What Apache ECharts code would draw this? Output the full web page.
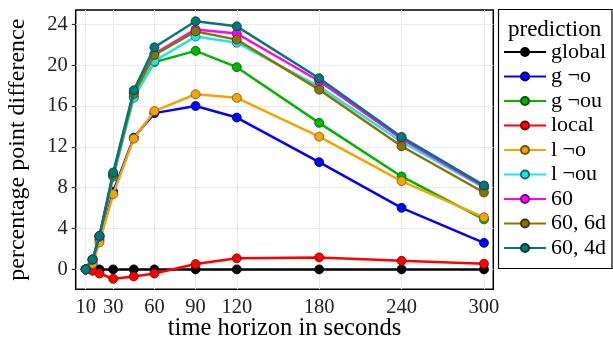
<!DOCTYPE html>
<html>
<head>
<meta charset="utf-8">
<script src="https://cdn.jsdelivr.net/npm/echarts@6/dist/echarts.min.js"></script>
<style>
  html, body { margin: 0; padding: 0; background: #fff; }
  #main { width: 613px; height: 341px; }
</style>
</head>
<body>
<div id="main"></div>
<script>
// 数据
var horizons = [10, 15, 20, 30, 45, 60, 90, 120, 180, 240, 300];
var xTicks = [10, 30, 60, 90, 120, 180, 240, 300];
var yTicks = [0, 4, 8, 12, 16, 20, 24];

var names = ['global', 'g ¬o', 'g ¬ou', 'local', 'l ¬o', 'l ¬ou', '60', '60, 6d', '60, 4d'];
var colors = ['#000000', '#0000ff', '#00b400', '#ff0000', '#f5a300', '#1ee6e6', '#ff00ff', '#8a7400', '#007878'];
var borders = ['#000000', '#00007a', '#005a00', '#7a0000', '#7a5200', '#0a6f6f', '#7a007a', '#453a00', '#003c3c'];

var globalVals = [0, 0, 0, 0, 0, 0, 0, 0, 0, 0, 0];
var gNotO = [0, 0.6, 2.9, 7.6, 12.9, 15.3, 16.0, 14.87, 10.5, 6.03, 2.6];
var gNotOU = [0, 0.95, 3.2, 9.1, 16.9, 20.3, 21.4, 19.8, 14.35, 9.1, 4.9];
var localVals = [0, -0.13, -0.4, -0.92, -0.69, -0.4, 0.52, 1.08, 1.17, 0.84, 0.55];
var lNotO = [0, 0.55, 2.64, 7.37, 12.8, 15.5, 17.15, 16.8, 13.0, 8.64, 5.1];
var lNotOU = [0, 0.95, 3.2, 9.1, 16.8, 20.4, 22.8, 22.2, 17.9, 12.5, 8.0];
var s60 = [0, 0.97, 3.25, 9.3, 17.3, 21.1, 23.5, 23.1, 18.45, 12.8, 8.1];
var s60d6 = [0, 0.97, 3.25, 9.25, 17.2, 21.0, 23.3, 22.5, 17.6, 12.06, 7.53];
var s60d4 = [0, 0.98, 3.29, 9.49, 17.54, 21.75, 24.3, 23.8, 18.72, 12.97, 8.22];

var allVals = [globalVals, gNotO, gNotOU, localVals, lNotO, lNotOU, s60, s60d6, s60d4];

var font = 'Liberation Serif';

var series = [];
for (var i = 0; i < names.length; i++) {
    var pts = [];
    for (var j = 0; j < horizons.length; j++) {
        pts.push([horizons[j], allVals[i][j]]);
    }
    series.push({
        name: names[i],
        type: 'line',
        data: pts,
        symbol: 'circle',
        symbolSize: 9,
        z: 2 + i,
        lineStyle: { color: colors[i], width: 2.5 },
        itemStyle: { color: colors[i], borderColor: borders[i], borderWidth: 0.8 },
        emphasis: { disabled: true },
        animation: false
    });
}

var myChart = echarts.init(document.getElementById('main'));
var option = {
    animation: false,
    grid: {
        left: 75.7,
        right: 119.7,
        top: 10,
        bottom: 51.7,
        outerBoundsMode: 'none',
        show: true,
        borderColor: '#000',
        borderWidth: 1.5,
        backgroundColor: '#fff'
    },
    title: {
        text: 'prediction',
        left: 503,
        top: 13,
        textStyle: { fontFamily: font, fontSize: 23, fontWeight: 'normal', color: '#000' }
    },
    legend: {
        orient: 'vertical',
        left: 503,
        top: 40,
        itemWidth: 42,
        itemHeight: 10,
        itemGap: 0.5,
        padding: 0,
        textStyle: { fontFamily: font, fontSize: 22, color: '#000', lineHeight: 24 },
        data: names
    },
    graphic: [{
        type: 'rect',
        shape: { x: 498.5, y: 9.5, width: 113.5, height: 259 },
        style: { fill: 'none', stroke: '#000', lineWidth: 1.2 },
        z: 0
    }],
    xAxis: {
        type: 'value',
        min: 2.7,
        max: 306.8,
        name: 'time horizon in seconds',
        nameLocation: 'middle',
        nameGap: 27,
        nameMoveOverlap: false,
        nameTextStyle: { fontFamily: font, fontSize: 24.5, color: '#000' },
        axisLine: { show: false },
        axisTick: { show: true, length: 4, inside: false, customValues: xTicks, lineStyle: { color: '#333', width: 1.2 } },
        axisLabel: { customValues: xTicks, margin: 8, fontFamily: font, fontSize: 20.5, color: '#222' },
        splitLine: { show: true, lineStyle: { color: '#ebebeb', width: 1 } }
    },
    yAxis: {
        type: 'value',
        min: -1.95,
        max: 25.4,
        name: 'percentage point difference',
        nameLocation: 'middle',
        nameGap: 46,
        nameTextStyle: { fontFamily: font, fontSize: 24, color: '#000' },
        axisLine: { show: false },
        axisTick: { show: true, length: 4, inside: false, customValues: yTicks, lineStyle: { color: '#333', width: 1.2 } },
        axisLabel: { customValues: yTicks, margin: 8, fontFamily: font, fontSize: 20.5, color: '#222' },
        splitLine: { show: true, lineStyle: { color: '#ebebeb', width: 1 } }
    },
    series: series
};
myChart.setOption(option);
</script>
</body>
</html>
